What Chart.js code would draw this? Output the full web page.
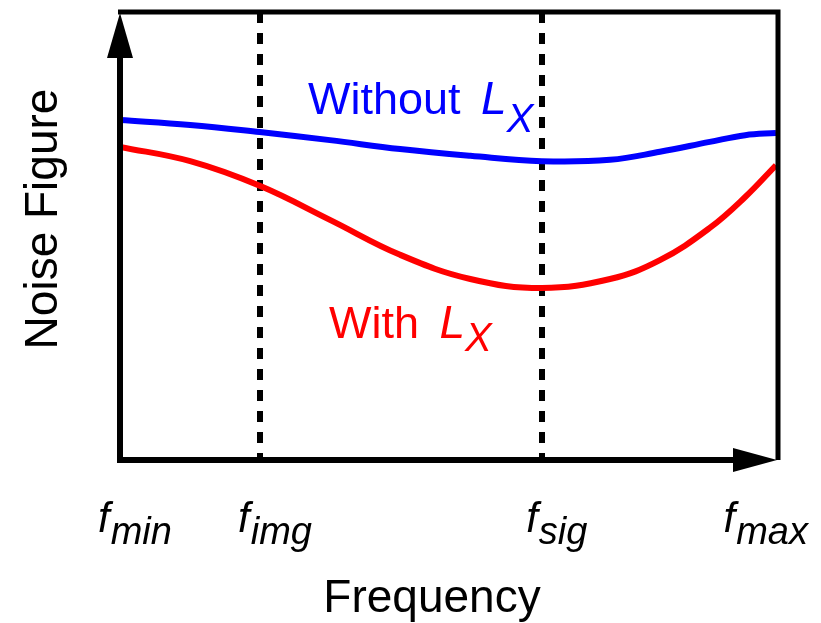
<!DOCTYPE html>
<html>
<head>
<meta charset="utf-8">
<script src="https://cdn.jsdelivr.net/npm/chart.js@4"></script>
<style>
  html, body { margin: 0; padding: 0; background: #fff; }
  #grafico { display: block; }
</style>
</head>
<body>
<canvas id="grafico" width="821" height="623"></canvas>
<script>
// frequency axis, normalised: fmin = 0, fmax = 1
const frequencias = [0, 0.107, 0.213, 0.320, 0.427, 0.534, 0.643, 0.747, 0.823, 0.899, 0.953, 1.0]
const semLx = [7.59, 7.48, 7.32, 7.14, 6.94, 6.79, 6.67, 6.70, 6.88, 7.10, 7.25, 7.30]
const comLx = [6.99, 6.67, 6.12, 5.36, 4.58, 4.04, 3.84, 4.04, 4.46, 5.18, 5.87, 6.58]

const marcasPos = [0, 0.2134, 0.643, 1]
const marcasSub = ['min', 'img', 'sig', 'max']
const linhasTracejadas = [0.2134, 0.643]

const yMin = 0, yMax = 10

function pontos(ys){
	return frequencias.map((x, i) => ({x: x, y: ys[i]}))
}

// draws "text" pieces one after another, each with its own font and vertical shift
function textoRico(ctx, partes, x, y, cor){
	ctx.fillStyle = cor
	ctx.textBaseline = 'alphabetic'
	ctx.textAlign = 'left'
	let cx = x
	partes.forEach(p => {
		ctx.font = p.font
		ctx.fillText(p.t, cx, y + (p.dy || 0))
		cx += ctx.measureText(p.t).width + (p.gap || 0)
	})
}

function larguraRica(ctx, partes){
	let w = 0
	partes.forEach(p => {
		ctx.font = p.font
		w += ctx.measureText(p.t).width + (p.gap || 0)
	})
	return w
}

const eixos = {
	id: 'eixos',
	beforeDatasetsDraw(chart){
		const ctx = chart.ctx
		const xs = chart.scales.x
		const a = chart.chartArea
		ctx.save()
		ctx.strokeStyle = '#000'
		ctx.lineWidth = 6
		ctx.setLineDash([11, 10])
		linhasTracejadas.forEach(v => {
			const px = Math.round(xs.getPixelForValue(v))
			ctx.beginPath()
			ctx.moveTo(px, a.top)
			ctx.lineTo(px, a.bottom)
			ctx.stroke()
		})
		ctx.restore()
	},
	afterDraw(chart){
		const ctx = chart.ctx
		const xs = chart.scales.x
		const a = chart.chartArea
		ctx.save()
		ctx.strokeStyle = '#000'
		ctx.fillStyle = '#000'
		ctx.setLineDash([])

		// frame
		ctx.lineWidth = 5
		ctx.beginPath()
		ctx.moveTo(a.left - 2, a.top)
		ctx.lineTo(a.right + 2, a.top)
		ctx.lineTo(a.right + 2, a.bottom)
		ctx.stroke()

		// axes
		ctx.lineWidth = 6
		ctx.beginPath()
		ctx.moveTo(a.left, a.bottom)
		ctx.lineTo(a.left, a.top + 30)
		ctx.moveTo(a.left - 3, a.bottom)
		ctx.lineTo(a.right - 30, a.bottom)
		ctx.stroke()

		// arrow heads
		ctx.beginPath()
		ctx.moveTo(a.left, a.top + 1)
		ctx.lineTo(a.left - 13, a.top + 46)
		ctx.lineTo(a.left + 13, a.top + 46)
		ctx.closePath()
		ctx.fill()
		ctx.beginPath()
		ctx.moveTo(a.right + 1, a.bottom)
		ctx.lineTo(a.right - 43, a.bottom - 12)
		ctx.lineTo(a.right - 43, a.bottom + 12)
		ctx.closePath()
		ctx.fill()

		// tick labels f_sub
		marcasPos.forEach((v, i) => {
			const partes = [
				{t: 'f', font: 'italic 42px "Liberation Sans", Arial, sans-serif', gap: 1},
				{t: marcasSub[i], font: 'italic 38px "Liberation Sans", Arial, sans-serif', dy: 12}
			]
			const w = larguraRica(ctx, partes)
			let x0 = xs.getPixelForValue(v) + 15 - w / 2
			if (x0 + w > 808) x0 = 808 - w
			textoRico(ctx, partes, x0, a.bottom + 72, '#000')
		})

		// axis titles
		ctx.fillStyle = '#000'
		ctx.font = '46px "Liberation Sans", Arial, sans-serif'
		ctx.textAlign = 'center'
		ctx.textBaseline = 'alphabetic'
		ctx.fillText('Frequency', 432, 612)
		ctx.save()
		ctx.translate(57, 219)
		ctx.rotate(-Math.PI / 2)
		ctx.fillText('Noise Figure', 0, 0)
		ctx.restore()

		// curve labels
		textoRico(ctx, [
			{t: 'Without ', font: '45px "Liberation Sans", Arial, sans-serif', gap: 8},
			{t: 'L', font: 'italic 46px "Liberation Sans", Arial, sans-serif'},
			{t: 'X', font: 'italic 40px "Liberation Sans", Arial, sans-serif', dy: 18}
		], 308, 114, '#0000ff')
		textoRico(ctx, [
			{t: 'With ', font: '45px "Liberation Sans", Arial, sans-serif', gap: 8},
			{t: 'L', font: 'italic 46px "Liberation Sans", Arial, sans-serif'},
			{t: 'X', font: 'italic 40px "Liberation Sans", Arial, sans-serif', dy: 13}
		], 329, 338, '#ff0000')

		ctx.restore()
	}
}

new Chart(document.getElementById('grafico').getContext('2d'), {
	type: 'line',
	data: {
		datasets: [{
				label: 'Without Lx',
				data: pontos(semLx),
				borderColor: '#0000ff',
				borderWidth: 6,
				pointRadius: 0,
				tension: 0.4,
				fill: false
			},
			{
				label: 'With Lx',
				data: pontos(comLx),
				borderColor: '#ff0000',
				borderWidth: 6,
				pointRadius: 0,
				tension: 0.4,
				fill: false
		}]
	},
	options: {
		responsive: false,
		animation: false,
		devicePixelRatio: 1,
		layout: { padding: { left: 120, right: 45, top: 12, bottom: 163 } },
		plugins: { legend: { display: false }, tooltip: { enabled: false }, title: { display: false } },
		scales: {
			x: { type: 'linear', min: 0, max: 1, display: false },
			y: { type: 'linear', min: yMin, max: yMax, display: false }
		}
	},
	plugins: [eixos]
})
</script>
</body>
</html>
